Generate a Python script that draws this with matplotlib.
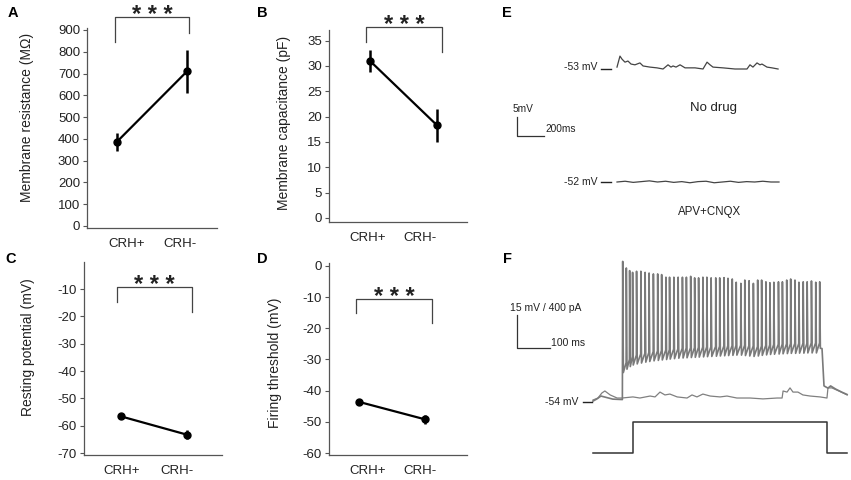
import matplotlib
matplotlib.use('Agg')
import matplotlib.pyplot as plt
import numpy as np

plt.rcParams['font.family'] = ['Liberation Sans', 'DejaVu Sans']
plt.rcParams['axes.unicode_minus'] = False

W, H = 851, 480

# ---- panels A-D : mean and error of the two groups ----
groups = ['CRH+', 'CRH-']
res_mean = [387, 710]
res_err = [41, 98]
cap_mean = [31.0, 18.3]
cap_err = [2.1, 3.3]
rest_mean = [-56.6, -63.3]
rest_err = [0.8, 1.6]
thr_mean = [-43.6, -49.2]
thr_err = [1.0, 1.4]

# ---- panel E : spontaneous activity (ms, mV) ----
e1_t = [0, 22, 37, 59, 81, 104, 133, 170, 193, 244, 296, 341, 378, 400, 415, 437, 467,
        504, 578, 637, 667, 689, 711, 785, 874, 963, 985, 1007, 1037, 1059, 1074, 1111, 1148, 1193]
e1_v = [-52.5, -49.6, -50.4, -51.2, -50.9, -51.7, -51.9, -51.4, -52.2, -52.5, -52.7, -53.0,
        -51.9, -52.5, -52.2, -52.5, -51.9, -52.7, -52.7, -53.0, -51.2, -51.9, -52.5, -52.7,
        -53.0, -53.0, -51.9, -52.5, -51.4, -51.9, -51.7, -52.5, -52.7, -53.0]
e2_t = [0, 60, 120, 180, 240, 300, 360, 420, 480, 540, 600, 660, 720, 780, 840, 900, 960,
        1020, 1080, 1140, 1200]
e2_v = [-52.0, -51.8, -52.1, -51.9, -51.7, -52.0, -51.8, -52.1, -51.9, -52.2, -51.9, -51.8,
        -52.2, -52.0, -51.8, -52.1, -51.9, -52.0, -51.8, -52.0, -52.0]

# ---- panel F : current step response (ms, mV, pA) ----
rest_t = [0, 15, 27, 36, 52, 73, 88, 121, 142, 173, 188, 203, 218, 233, 255, 285, 300, 315,
          333, 355, 385, 406, 436, 476, 515, 558, 573, 576, 588, 597, 606, 621, 636, 658, 688,
          709, 712, 724, 739, 758, 770]
rest_v = [-54.0, -53.1, -50.8, -49.9, -51.7, -53.1, -53.1, -52.6, -53.1, -52.2, -52.6, -50.4,
          -51.7, -51.3, -52.6, -53.1, -51.7, -52.6, -51.3, -52.2, -52.6, -52.2, -53.1, -53.1,
          -53.5, -53.1, -53.1, -49.9, -50.4, -48.5, -50.4, -50.4, -51.7, -52.2, -52.6, -53.1,
          -48.5, -48.5, -49.5, -50.8, -51.7]
pre_t = [0, 12, 24, 40, 60, 89]
pre_v = [-54.5, -53.5, -52.2, -52.8, -53.6, -53.8]
spike_t = [90, 101, 111, 120, 132, 145, 158, 170, 183, 196, 208, 221, 232, 245, 258, 271, 283,
           296, 308, 320, 333, 345, 358, 372, 384, 397, 409, 422, 434, 448, 460, 473, 486, 499,
           511, 524, 536, 548, 562, 574, 587, 599, 612, 624, 637, 649, 662, 675, 687]
spike_peak = [9.0, 6.0, 4.8, 4.0, 4.5, 4.5, 4.0, 3.7, 3.3, 3.3, 3.0, 1.8, 1.8, 1.8, 1.8, 1.8,
              1.8, 2.2, 1.5, 1.5, 1.8, 1.8, 1.5, 1.5, 1.5, 1.6, 1.3, 1.0, -0.5, -1.0, 0.5, 0.2,
              -1.0, 0.5, 0.5, -0.3, -0.7, -0.5, -0.3, -0.3, 0.5, 1.0, 0.5, -0.5, -0.3, -0.3,
              0.1, -0.5, -0.3]
spike_trough = [-41.5, -40.0, -38.8, -38.1, -37.6, -37.2, -36.8, -36.5, -36.2, -36.0, -35.8,
                -35.6, -35.4, -35.2, -35.0, -34.9, -34.8, -34.7, -34.6, -34.5, -34.4, -34.3,
                -34.2, -34.1, -34.0, -33.9, -33.8, -33.7, -33.6, -33.6, -33.8, -34.0, -34.2,
                -34.0, -33.7, -33.5, -33.3, -33.2, -33.1, -33.0, -32.9, -32.8, -32.8, -32.7,
                -32.7, -32.6, -32.6, -32.6, -30.5]
post_t = [694, 700, 712, 720, 735, 755, 770]
post_v = [-30.6, -47.6, -48.6, -47.6, -49.0, -50.5, -51.5]
step_on, step_off, step_amp = 121, 709, 375
sweep_end = 770

fig = plt.figure(figsize=(W / 100, H / 100), dpi=100)


def add_px_axes(l, t, r, b):
    return fig.add_axes([l / W, 1 - b / H, (r - l) / W, (b - t) / H])


def scaled_axes(l, t, r, b, x0px, xscale, y0px, y0, yscale):
    # axes whose data units map to pixels with the given scale
    ax = add_px_axes(l, t, r, b)
    ax.set_xlim((l - x0px) / xscale, (r - x0px) / xscale)
    ax.set_ylim(y0 - (b - y0px) / yscale, y0 + (y0px - t) / yscale)
    ax.axis('off')
    return ax


def letter(s, x, y):
    fig.text(x / W, 1 - y / H, s, fontsize=10.5, fontweight='bold', ha='center', va='center')


panels = [
    dict(box=(87, 28, 217, 228), mean=res_mean, err=res_err, ylim=(-9.2, 909),
         yticks=range(0, 901, 100), xlim=(-0.4286, 1.4286), xt=[0.143, 0.9],
         br=(960, 845, 886), brx=(-0.03, 1.03), ylabel='Membrane resistance (MΩ)',
         lab=(27, 117), let=('A', 13, 13)),
    dict(box=(329, 30, 467, 222), mean=cap_mean, err=cap_err, ylim=(-0.79, 37.1),
         yticks=range(0, 36, 5), xlim=(-0.612, 1.448), xt=[-0.03, 0.746],
         br=(37.7, 34.74, 32.77), brx=(-0.06, 1.075), ylabel='Membrane capacitance (pF)',
         lab=(284, 123), let=('B', 262, 13)),
    dict(box=(84, 262, 222, 455), mean=rest_mean, err=rest_err, ylim=(-70.73, -0.12),
         yticks=range(-70, -9, 10), xlim=(-0.56, 1.53), xt=[0.015, 0.848],
         br=(-9.27, -14.76, -18.4), brx=(-0.06, 1.076), ylabel='Resting potential (mV)',
         lab=(28, 347), let=('C', 11, 259)),
    dict(box=(329, 263, 467, 455), mean=thr_mean, err=thr_err, ylim=(-60.64, 0.96),
         yticks=range(-60, 1, 10), xlim=(-0.4545, 1.636), xt=[0.136, 0.924],
         br=(-10.6, -15.1, -18.3), brx=(-0.045, 1.106), ylabel='Firing threshold (mV)',
         lab=(275, 363), let=('D', 262, 259)),
]

for p in panels:
    l, t, r, b = p['box']
    ax = add_px_axes(l, t, r, b)
    ax.errorbar([0, 1], p['mean'], yerr=p['err'], fmt='-o', color='black', lw=1.6,
                elinewidth=1.8, ms=5, capsize=0)
    ax.set_xlim(p['xlim'])
    ax.set_ylim(p['ylim'])
    ax.set_yticks(list(p['yticks']))
    ax.set_xticks(p['xt'])
    ax.set_xticklabels(groups)
    for s in ['top', 'right']:
        ax.spines[s].set_visible(False)
    for s in ['left', 'bottom']:
        ax.spines[s].set_color('#555555')
        ax.spines[s].set_linewidth(0.9)
    ax.tick_params(axis='y', direction='out', length=3, width=0.8, color='#555555',
                   labelsize=9.5, labelcolor='#222222', pad=2)
    ax.tick_params(axis='x', length=0, labelsize=9.5, labelcolor='#222222', pad=7)
    # significance bracket
    by, ll, rl = p['br']
    x0, x1 = p['brx']
    ax.plot([x0, x0, x1, x1], [ll, by, by, rl], color='#444444', lw=0.9, clip_on=False)
    ax.annotate('* * *', ((x0 + x1) / 2, by), xytext=(0, -3.5), textcoords='offset points',
                ha='center', va='baseline', fontsize=17, fontweight='bold',
                color='#222222', annotation_clip=False)
    ax.set_ylabel(p['ylabel'], fontsize=10, color='#222222')
    ax.yaxis.set_label_coords((p['lab'][0] - l) / (r - l), (b - p['lab'][1]) / (b - t))
    ax.yaxis.label.set_verticalalignment('center')
    letter(*p['let'])

# ---- panel E ----
trace_col = '#444444'
axE1 = scaled_axes(500, 0, 851, 150, 617, 0.135, 69, -53, 3.8)
axE1.plot(e1_t, e1_v, color=trace_col, lw=0.9)
axE1.plot([-119, -44], [-53, -53], color='#222222', lw=1.0)
axE1.text(-148, -52.6, '-53 mV', ha='right', va='center', fontsize=7.5, color='#222222')
axE1.plot([-741, -741, -541], [-65.6, -70.6, -70.6], color='#333333', lw=0.9)
axE1.text(-770, -63.5, '5mV', ha='left', va='center', fontsize=7.3, color='#222222')
axE1.text(-533, -68.8, '200ms', ha='left', va='center', fontsize=7.3, color='#222222')
axE1.text(718, -63.3, 'No drug', ha='center', va='center', fontsize=9.5, color='#222222')

axE2 = scaled_axes(500, 150, 851, 240, 617, 0.135, 182, -52, 3.8)
axE2.plot(e2_t, e2_v, color=trace_col, lw=0.9)
axE2.plot([-119, -44], [-52, -52], color='#222222', lw=1.0)
axE2.text(-148, -52, '-52 mV', ha='right', va='center', fontsize=7.5, color='#222222')
axE2.text(689, -59.9, 'APV+CNQX', ha='center', va='center', fontsize=8.3, color='#222222')
letter('E', 507, 13)

# ---- panel F ----
axF = scaled_axes(500, 240, 851, 480, 593, 0.33, 400, -54, 2.2)
ft, fv = list(pre_t), list(pre_v)
for i in range(len(spike_t)):
    if i > 0:
        ft.append(spike_t[i] - 0.6)
        fv.append(spike_trough[i - 1] + 4.5)
    ft += [spike_t[i], spike_t[i] + 2.0]
    fv += [spike_peak[i], spike_trough[i]]
ft += post_t
fv += post_v
axF.plot(rest_t, rest_v, color='#808080', lw=0.9)
axF.plot(ft, fv, color='#7a7a7a', lw=1.2)
axF.plot([-30, -3], [-54.9, -54.9], color='#222222', lw=1.0)
axF.text(-45.5, -54.9, '-54 mV', ha='right', va='center', fontsize=7.5, color='#222222')
axF.plot([-230, -230, -130], [-15.4, -30.4, -30.4], color='#333333', lw=0.9)
axF.text(-251.5, -12.2, '15 mV / 400 pA', ha='left', va='center', fontsize=7.5, color='#222222')
axF.text(-127, -28.1, '100 ms', ha='left', va='center', fontsize=7.5, color='#222222')

axI = scaled_axes(500, 240, 851, 480, 593, 0.33, 453, 0, 0.0825)
axI.plot([0, step_on, step_on, step_off, step_off, sweep_end],
         [0, 0, step_amp, step_amp, 0, 0], color='#333333', lw=1.1)
letter('F', 507, 259)

fig.savefig('out.png', dpi=100)
